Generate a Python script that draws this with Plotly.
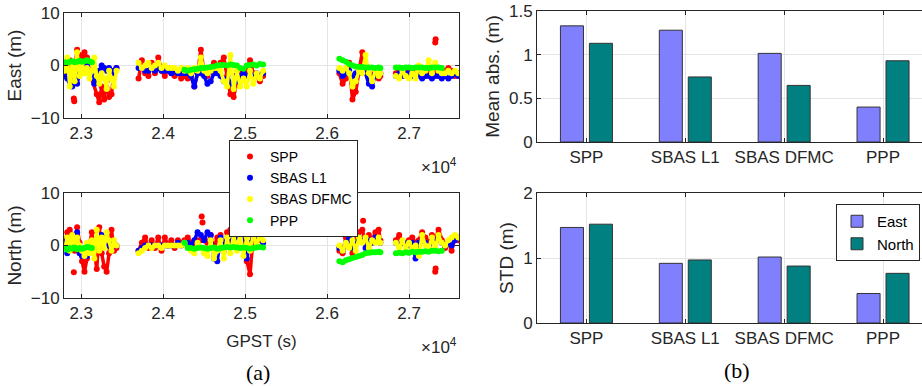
import plotly.graph_objects as go

# ---------------- data ----------------
T_SEG1 = [22800, 22830, 22860, 22890, 22920, 22950, 22980, 23010, 23040, 23070, 23100,
          23130, 23160, 23190, 23220, 23250, 23280, 23310, 23340, 23370, 23400, 23430]
T_SEG2 = [23700, 23740, 23780, 23820, 23860, 23900, 23940, 23980, 24020, 24060, 24100,
          24140, 24180, 24220, 24260, 24300, 24340, 24380, 24420, 24460, 24500, 24540,
          24580, 24620, 24660, 24700, 24740, 24780, 24820, 24860, 24900, 24940, 24980,
          25020, 25060, 25100, 25140, 25180, 25220]
T_SEG3 = [26150, 26190, 26230, 26270, 26310, 26350, 26390, 26430, 26470, 26510, 26550,
          26590, 26630, 26650]
T_SEG4 = [26840, 26880, 26920, 26960, 27000, 27040, 27080, 27120, 27160, 27200, 27240,
          27280, 27320, 27360, 27400, 27440, 27480, 27520, 27560, 27600]

N = None


def join(*segs):
    out = []
    for i, s in enumerate(segs):
        if i:
            out.append(None)
        out.extend(s)
    return out


GPST = join(T_SEG1, T_SEG2, T_SEG3, T_SEG4)

# East error (m)
EAST_SPP = join(
    [0.5, -1.5, 1.0, -2.0, -1.0, 3.0, 2.0, 0.5, 2.5, 1.5, -1.0, -2.5, -3.5, -5.5, -7.0, -4.0,
     -6.5, -3.0, -6.0, -5.5, -1.0, -0.5],
    [-2.5, 1.0, -1.5, -2.0, 0.5, -1.5, 1.5, -1.0, -2.0, -0.5, -1.5, -2.0, -1.0, -2.5, -2.0,
     -2.5, -2.0, -4.0, -1.5, 3.0, -1.5, -2.0, -1.0, 0.5, -0.5, 0.5, 1.5, -2.0, -5.5, -6.0,
     -3.0, -1.5, -2.0, -1.0, 1.0, -1.5, -2.0, -3.0, -2.0],
    [-1.5, -3.5, -2.5, 0.5, -6.5, -5.0, -1.0, 2.5, -1.0, -1.5, -2.0, -1.0, -2.5, -2.0],
    [-1.5, -1.0, -2.0, -1.0, -1.5, -1.0, -2.0, -1.5, -1.0, -1.5, -1.0, -0.5, -1.0, -1.0,
     -1.5, -1.0, -0.5, -1.0, -2.0, -1.5])
EAST_L1 = join(
    [-2.0, -2.5, -3.0, -4.0, -2.5, -3.5, -1.5, -0.5, -0.5, 0.0, -1.0, -2.0, -3.5, -2.0, -1.0,
     0.0, -0.5, -1.0, -0.5, -1.5, -1.0, -0.5],
    [-0.5, -0.5, -1.0, -1.0, -0.5, -1.0, -0.5, -1.0, -1.0, -1.0, -1.5, -1.0, -1.5, -1.5,
     -1.5, -1.5, -2.0, -4.0, -1.5, -1.5, -2.0, -3.5, -3.0, -1.5, -1.5, -2.0, -3.0, -2.5,
     -3.5, -2.0, -3.0, -2.0, -1.5, -2.0, -1.5, -2.0, -1.5, -2.0, -1.5],
    [-1.0, -2.0, -1.5, -1.0, -2.0, -1.5, -1.5, -1.0, -1.5, -3.5, -4.0, -1.5, -2.0, -1.5],
    [-2.0, -1.5, -2.0, -1.5, -1.5, -2.0, -2.0, -2.0, -2.5, -2.0, -2.0, -2.5, -2.0, -2.0,
     -2.5, -2.0, -2.5, -2.0, -1.5, -2.0])
EAST_DFMC = join(
    [-1.0, 1.5, -4.0, 0.5, -3.0, 2.5, -2.0, 0.5, -1.5, -0.5, -2.5, -1.0, 1.5, -2.0, -3.5,
     -1.5, -2.5, -4.5, -1.0, -2.5, -4.0, -1.0],
    [0.5, -0.5, 0.0, 0.5, -0.5, 0.0, 0.5, -0.5, 0.0, -0.5, -0.5, -0.5, -1.0, -0.5, -1.0,
     -0.5, -1.5, -0.5, -1.0, 1.5, -1.0, -1.5, -1.0, -0.5, -0.5, -1.0, -3.0, -4.0, 2.0,
     -4.5, -1.0, -4.0, -2.5, -4.0, -1.0, -3.5, -1.5, -2.5, -1.0],
    [-0.5, -1.0, -0.5, -1.5, -4.0, -3.0, -1.0, -1.5, 2.0, -1.5, -3.0, -1.0, -2.0, -1.5],
    [-2.0, -2.5, -1.0, -2.0, -2.5, -1.5, -2.5, 0.0, -1.5, -1.0, 1.0, -1.5, 0.5, -1.0,
     -1.5, -1.5, -1.0, -1.5, -1.0, -1.5])
EAST_PPP = join(
    [0.6, 0.5, 0.7, 0.8, 0.6, 0.7, 0.9, 0.7, 0.8, 1.0, 0.8, 0.6, N, N, N, N, N, N, N, N, N, N],
    [N, N, N, N, N, N, N, N, N, N, N, N, N, N, -0.8, -1.0, -0.8, -0.7, -0.6, -0.5, -0.5,
     -0.4, -0.3, -0.2, 0.0, 0.1, 0.1, 0.0, 0.2, 0.1, 0.0, -0.5, -0.6, 0.0, 0.1, 0.2, 0.0,
     0.3, 0.2],
    [1.3, 1.0, 0.7, 0.3, 0.0, -0.2, -0.3, -0.3, -0.4, -0.4, -0.4, -0.5, -0.4, -0.5],
    [-0.4, -0.4, -0.5, -0.4, -0.4, -0.5, -0.4, -0.4, -0.4, -0.5, -0.5, -0.4, -0.4, -0.4,
     -0.5, N, N, N, N, N])
EAST_SPP_OUT_T = [22910, 22915, 27320, 27325]
EAST_SPP_OUT_V = [-6.3, -6.8, 4.4, 5.0]

# North error (m)
NORTH_SPP = join(
    [0.5, 2.5, 3.0, 2.0, -1.0, 3.5, 0.5, -3.0, -5.0, -2.5, -0.5, 2.5, -1.0, -4.5, 3.5, -1.5,
     -4.0, -5.0, -1.5, 3.0, -1.0, -0.5],
    [-1.0, 0.5, 1.5, -0.5, 1.0, -0.5, 1.5, -1.0, 1.5, 0.0, 1.0, -0.5, 1.0, 0.5, 1.0, 1.5,
     0.5, -0.5, 1.0, 1.0, 1.0, 0.5, 2.0, -0.5, 1.5, 2.0, -1.0, 2.5, 3.0, 2.5, 3.0, 2.5,
     0.0, -3.0, -5.5, 2.0, 3.0, 1.0, 2.5],
    [-1.0, -1.5, 1.5, 3.0, -1.5, 1.0, 2.5, 3.0, 0.5, 2.0, 1.0, 2.5, 3.0, 1.0],
    [1.0, 2.0, 0.5, 0.0, 1.0, 1.5, 0.5, 1.0, 2.5, 1.5, 0.5, 2.0, 1.0, 3.0, 1.0, -0.5, 0.5,
     -1.0, 1.5, 1.0])
NORTH_L1 = join(
    [1.0, -1.5, 0.5, 0.0, -0.5, 2.5, -1.5, -2.0, -1.5, -2.0, -1.0, 0.0, -0.5, 0.5, 1.0, 2.0,
     0.5, 0.0, 1.0, -0.5, 0.5, 0.0],
    [-1.0, -0.5, 0.0, 0.0, 0.0, 0.0, 0.0, 0.0, 0.0, 0.0, 0.0, 0.0, 0.5, 0.0, 0.5, 0.5, 0.0,
     1.0, 2.5, 2.0, 1.0, 2.5, 2.0, -2.5, -3.0, 1.5, 0.5, 1.0, 0.5, 2.0, 1.5, 1.0, 3.0,
     -2.5, 0.5, 1.5, 1.0, 1.5, 0.5],
    [-0.5, -1.0, 0.5, 1.5, -0.5, 0.5, 1.5, 1.0, -0.5, 1.0, 0.5, 1.5, 1.0, 0.5],
    [0.5, 0.0, 0.5, 0.5, 0.0, 0.5, -2.5, 0.5, 1.0, 0.5, 0.0, 1.0, 0.5, 1.5, 0.5, 0.0, 0.5,
     0.0, 1.0, 1.5])
NORTH_DFMC = join(
    [-0.5, 1.5, -1.0, 2.0, 0.5, 1.5, 0.0, -1.0, -2.0, 0.5, -1.5, 1.0, -2.5, 3.0, -1.0, 1.5,
     -0.5, 2.5, 1.0, -1.0, 1.0, 0.0],
    [-1.5, -1.0, -0.5, 0.0, -0.5, 0.0, 0.0, -0.5, 0.0, 0.0, 0.0, 0.0, 0.0, 0.0, 0.5, -0.5,
     -1.0, -1.5, 0.5, -0.5, -1.5, -2.0, 1.0, -2.5, -1.0, 1.0, -2.5, 1.5, -1.5, 2.0, -1.0,
     2.5, -2.0, 1.5, -1.0, 2.0, 0.5, 1.5, 1.0],
    [0.0, -1.0, 0.5, -0.5, 1.0, -1.0, 1.5, 0.5, 1.5, -0.5, 1.0, 0.5, 1.5, 0.5],
    [0.5, -0.5, 1.0, -0.5, 0.5, -0.5, 0.0, -2.0, 2.0, 0.0, -0.5, 1.5, -0.5, 2.0, 0.5, 0.0,
     1.0, 1.5, 2.0, 1.5])
NORTH_PPP = join(
    [-0.5, -0.8, -0.5, -0.6, -0.4, -0.7, -0.5, -0.6, -0.5, -0.3, -0.4, -0.5, N, N, N, N, N,
     N, N, N, N, N],
    [N, N, N, N, N, N, N, N, N, N, N, N, N, N, 0.5, -0.5, -0.5, -0.6, -0.5, -0.4, -0.5,
     -0.6, -0.5, -0.4, -0.6, -0.5, -0.4, -0.3, -0.4, -0.3, -0.4, -0.5, -0.4, -0.5, -0.6,
     -0.5, -0.4, -0.3, -0.4],
    [-3.0, -3.2, -2.8, -2.6, -2.4, -2.2, -2.0, -1.8, -1.5, -1.4, -1.3, -1.3, -1.2, -1.3],
    [-1.5, -1.4, -1.5, -1.3, -1.4, -1.2, -1.3, -1.2, -1.2, -1.1, -1.2, -1.0, -1.0, -1.1,
     -1.0, N, N, N, N, N])
NORTH_SPP_OUT_T = [22910, 24470, 24480, 26440, 27320, 27325]
NORTH_SPP_OUT_V = [-5.1, 5.5, 4.4, 4.7, -5.0, -4.4]

SERIES_NAMES = ["SPP", "SBAS L1", "SBAS DFMC", "PPP"]
SERIES_COLORS = ["#ff0000", "#0000ff", "#ffff00", "#00ff00"]

# Bar statistics (m)
CATEGORIES = ["SPP", "SBAS L1", "SBAS DFMC", "PPP"]
MEAN_ABS_EAST = [1.33, 1.28, 1.015, 0.40]
MEAN_ABS_NORTH = [1.13, 0.745, 0.648, 0.93]
STD_EAST = [1.47, 0.918, 1.015, 0.454]
STD_NORTH = [1.52, 0.97, 0.876, 0.764]

X_TICKS = [23000, 24000, 25000, 26000, 27000]
X_TICK_TEXT = ["2.3", "2.4", "2.5", "2.6", "2.7"]

# ---------------- figure ----------------
W, H = 922, 386
FONT = "Liberation Sans, Arial, sans-serif"
AX = "#262626"
GRID = "#e4e4e4"

fig = go.Figure()

east = [EAST_SPP, EAST_L1, EAST_DFMC, EAST_PPP]
north = [NORTH_SPP, NORTH_L1, NORTH_DFMC, NORTH_PPP]

for vals, xa, ya, ot, ov in [(east, "x", "y", EAST_SPP_OUT_T, EAST_SPP_OUT_V),
                             (north, "x2", "y2", NORTH_SPP_OUT_T, NORTH_SPP_OUT_V)]:
    fig.add_trace(go.Scatter(x=ot, y=ov, mode="markers", xaxis=xa, yaxis=ya,
                             marker=dict(color=SERIES_COLORS[0], size=6),
                             showlegend=False, hoverinfo="skip"))
    for v, c in zip(vals, SERIES_COLORS):
        fig.add_trace(go.Scatter(x=GPST, y=v, mode="lines+markers", xaxis=xa, yaxis=ya,
                                 line=dict(color=c, width=3.5),
                                 marker=dict(color=c, size=6),
                                 showlegend=False, hoverinfo="skip"))

# legend entries for left panels
for name, c in zip(SERIES_NAMES, SERIES_COLORS):
    fig.add_trace(go.Scatter(x=[None], y=[None], mode="markers", name=name,
                             marker=dict(color=c, size=6), xaxis="x", yaxis="y",
                             legend="legend"))

# bar charts
for yv, xa, ya, show in [(MEAN_ABS_EAST, "x3", "y3", False), (STD_EAST, "x4", "y4", True)]:
    fig.add_trace(go.Bar(x=CATEGORIES, y=yv, xaxis=xa, yaxis=ya, name="East",
                         width=0.233, offset=-0.263,
                         marker=dict(color="#8080ff", line=dict(color="#333333", width=1)),
                         showlegend=show, legend="legend2"))
for yv, xa, ya, show in [(MEAN_ABS_NORTH, "x3", "y3", False), (STD_NORTH, "x4", "y4", True)]:
    fig.add_trace(go.Bar(x=CATEGORIES, y=yv, xaxis=xa, yaxis=ya, name="North",
                         width=0.233, offset=0.03,
                         marker=dict(color="#008080", line=dict(color="#333333", width=1)),
                         showlegend=show, legend="legend2"))

tickfont = dict(family=FONT, size=17, color=AX)
titlefont = dict(family=FONT, size=17, color=AX)
ytitlefont = dict(family=FONT, size=19, color=AX)

left_x = dict(range=[22790, 27610], tickvals=X_TICKS, ticktext=X_TICK_TEXT,
              ticks="inside", ticklen=4, tickcolor=AX, showline=True, linecolor=AX,
              linewidth=1, mirror="ticks", showgrid=True, gridcolor=GRID, zeroline=False,
              tickfont=tickfont, domain=[64 / W, 459 / W], automargin=False)
left_y = dict(range=[-10, 10], tickvals=[-10, 0, 10], ticks="inside", ticklen=4,
              tickcolor=AX, showline=True, linecolor=AX, linewidth=1, mirror="ticks",
              showgrid=True, gridcolor=GRID, zeroline=False, tickfont=tickfont,
              automargin=False)

right_x = dict(type="category", range=[-0.5, 3.394], ticks="inside", ticklen=4,
               tickcolor=AX, showline=True, linecolor=AX, linewidth=1, mirror="ticks",
               showgrid=True, gridcolor=GRID, zeroline=False, tickfont=tickfont,
               domain=[537 / W, 1.0], automargin=False)
right_y = dict(ticks="inside", ticklen=4, tickcolor=AX, showline=True, linecolor=AX,
               linewidth=1, mirror=False, showgrid=True, gridcolor=GRID, zeroline=False,
               tickfont=tickfont, automargin=False)

fig.update_layout(
    width=W, height=H, margin=dict(l=0, r=0, t=0, b=0, autoexpand=False),
    paper_bgcolor="white", plot_bgcolor="white",
    font=dict(family=FONT, size=17, color=AX),
    barmode="overlay",
    xaxis=dict(left_x, anchor="y"),
    yaxis=dict(left_y, anchor="x", domain=[1 - 118 / H, 1 - 13 / H],
               title=dict(text="East (m)", font=ytitlefont, standoff=4)),
    xaxis2=dict(left_x, anchor="y2",
                title=dict(text="GPST (s)", font=titlefont, standoff=12)),
    yaxis2=dict(left_y, anchor="x2", domain=[1 - 298 / H, 1 - 193 / H],
                title=dict(text="North (m)", font=ytitlefont, standoff=4)),
    xaxis3=dict(right_x, anchor="y3"),
    yaxis3=dict(right_y, anchor="x3", range=[0, 1.5], tickvals=[0, 0.5, 1, 1.5],
                domain=[1 - 142 / H, 1 - 11 / H],
                title=dict(text="Mean abs. (m)", font=ytitlefont, standoff=4)),
    xaxis4=dict(right_x, anchor="y4"),
    yaxis4=dict(right_y, anchor="x4", range=[0, 2], tickvals=[0, 1, 2],
                domain=[1 - 323 / H, 1 - 193 / H],
                title=dict(text="STD (m)", font=ytitlefont, standoff=4)),
    legend=dict(x=229 / W, y=1 - 140 / H, xanchor="left", yanchor="top",
                bgcolor="white", bordercolor=AX, borderwidth=1,
                font=dict(family=FONT, size=14, color="#000000"),
                itemwidth=30, tracegroupgap=0),
    legend2=dict(x=920 / W, y=1 - 204 / H, xanchor="right", yanchor="top",
                 bgcolor="white", bordercolor=AX, borderwidth=1,
                 font=dict(family=FONT, size=15, color="#000000"),
                 itemwidth=30, tracegroupgap=0),
    annotations=[
        dict(text="×10<sup>4</sup>", x=459 / W, y=1 - 166 / H, xref="paper", yref="paper",
             xanchor="right", yanchor="middle", showarrow=False,
             font=dict(family=FONT, size=17, color=AX)),
        dict(text="×10<sup>4</sup>", x=459 / W, y=1 - 346 / H, xref="paper", yref="paper",
             xanchor="right", yanchor="middle", showarrow=False,
             font=dict(family=FONT, size=17, color=AX)),
        dict(text="(a)", x=258 / W, y=1 - 372 / H, xref="paper", yref="paper",
             xanchor="center", yanchor="middle", showarrow=False,
             font=dict(family="Liberation Serif, Times New Roman, serif", size=22,
                       color="#000000")),
        dict(text="(b)", x=737 / W, y=1 - 370 / H, xref="paper", yref="paper",
             xanchor="center", yanchor="middle", showarrow=False,
             font=dict(family="Liberation Serif, Times New Roman, serif", size=22,
                       color="#000000")),
    ],
)

fig.write_html("out.html",
               config={"displayModeBar": False},
               post_script="document.body.style.margin='0';"
                           "document.body.style.overflow='hidden';")
